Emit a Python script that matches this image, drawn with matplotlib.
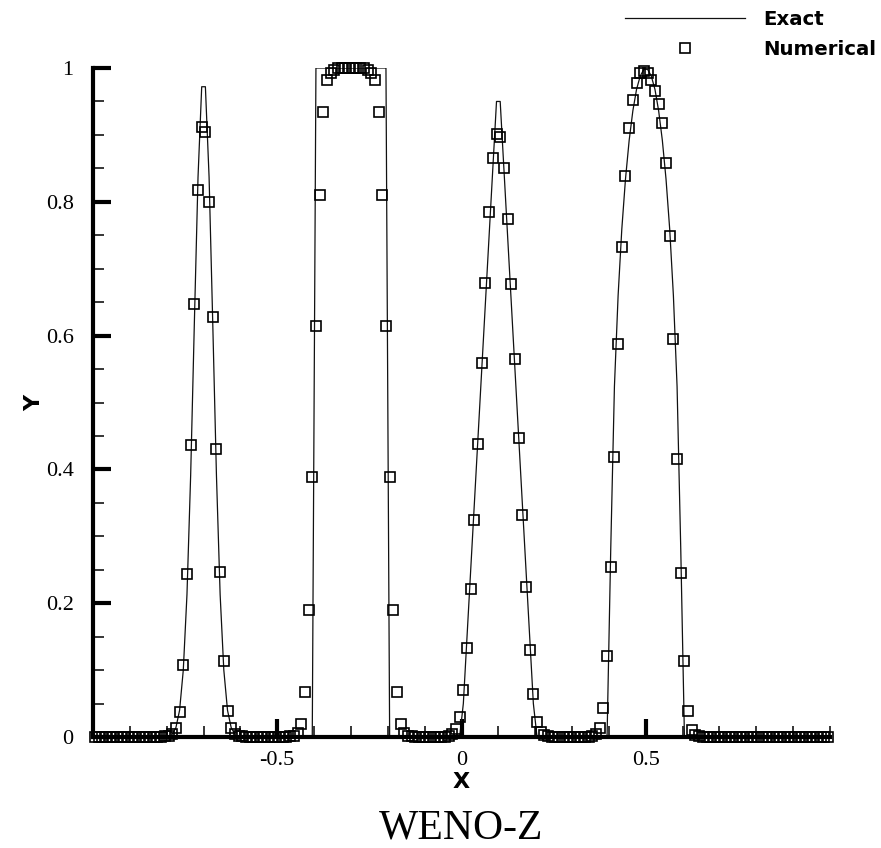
import numpy as np
import matplotlib
matplotlib.use("Agg")
import matplotlib.pyplot as plt
from matplotlib.ticker import MultipleLocator, FuncFormatter

plt.rcParams['axes.unicode_minus'] = False

# cell centres of the 200-cell mesh on [-1, 1]
x_cell = [
    -0.995, -0.985, -0.975, -0.965, -0.955, -0.945, -0.935, -0.925, -0.915, -0.905,
    -0.895, -0.885, -0.875, -0.865, -0.855, -0.845, -0.835, -0.825, -0.815, -0.805,
    -0.795, -0.785, -0.775, -0.765, -0.755, -0.745, -0.735, -0.725, -0.715, -0.705,
    -0.695, -0.685, -0.675, -0.665, -0.655, -0.645, -0.635, -0.625, -0.615, -0.605,
    -0.595, -0.585, -0.575, -0.565, -0.555, -0.545, -0.535, -0.525, -0.515, -0.505,
    -0.495, -0.485, -0.475, -0.465, -0.455, -0.445, -0.435, -0.425, -0.415, -0.405,
    -0.395, -0.385, -0.375, -0.365, -0.355, -0.345, -0.335, -0.325, -0.315, -0.305,
    -0.295, -0.285, -0.275, -0.265, -0.255, -0.245, -0.235, -0.225, -0.215, -0.205,
    -0.195, -0.185, -0.175, -0.165, -0.155, -0.145, -0.135, -0.125, -0.115, -0.105,
    -0.095, -0.085, -0.075, -0.065, -0.055, -0.045, -0.035, -0.025, -0.015, -0.005,
    0.005, 0.015, 0.025, 0.035, 0.045, 0.055, 0.065, 0.075, 0.085, 0.095,
    0.105, 0.115, 0.125, 0.135, 0.145, 0.155, 0.165, 0.175, 0.185, 0.195,
    0.205, 0.215, 0.225, 0.235, 0.245, 0.255, 0.265, 0.275, 0.285, 0.295,
    0.305, 0.315, 0.325, 0.335, 0.345, 0.355, 0.365, 0.375, 0.385, 0.395,
    0.405, 0.415, 0.425, 0.435, 0.445, 0.455, 0.465, 0.475, 0.485, 0.495,
    0.505, 0.515, 0.525, 0.535, 0.545, 0.555, 0.565, 0.575, 0.585, 0.595,
    0.605, 0.615, 0.625, 0.635, 0.645, 0.655, 0.665, 0.675, 0.685, 0.695,
    0.705, 0.715, 0.725, 0.735, 0.745, 0.755, 0.765, 0.775, 0.785, 0.795,
    0.805, 0.815, 0.825, 0.835, 0.845, 0.855, 0.865, 0.875, 0.885, 0.895,
    0.905, 0.915, 0.925, 0.935, 0.945, 0.955, 0.965, 0.975, 0.985, 0.995,
]

# exact profile: gaussian, square, triangle, half ellipse
u_exact = [
    0, 0, 0, 0, 0, 0, 0, 0, 0, 0,
    0, 0, 0, 0, 0, 0, 0, 0, 0, 0,
    0.001, 0.004, 0.014, 0.040, 0.100, 0.213, 0.391, 0.618, 0.837, 0.972,
    0.972, 0.837, 0.618, 0.391, 0.213, 0.100, 0.040, 0.014, 0.004, 0.001,
    0, 0, 0, 0, 0, 0, 0, 0, 0, 0,
    0, 0, 0, 0, 0, 0, 0, 0, 0, 0,
    1, 1, 1, 1, 1, 1, 1, 1, 1, 1,
    1, 1, 1, 1, 1, 1, 1, 1, 1, 1,
    0, 0, 0, 0, 0, 0, 0, 0, 0, 0,
    0, 0, 0, 0, 0, 0, 0, 0, 0, 0,
    0.05, 0.15, 0.25, 0.35, 0.45, 0.55, 0.65, 0.75, 0.85, 0.95,
    0.95, 0.85, 0.75, 0.65, 0.55, 0.45, 0.35, 0.25, 0.15, 0.05,
    0, 0, 0, 0, 0, 0, 0, 0, 0, 0,
    0, 0, 0, 0, 0, 0, 0, 0, 0, 0,
    0.281, 0.524, 0.660, 0.759, 0.834, 0.892, 0.936, 0.968, 0.988, 0.998,
    0.998, 0.988, 0.968, 0.936, 0.892, 0.834, 0.759, 0.660, 0.524, 0.281,
    0, 0, 0, 0, 0, 0, 0, 0, 0, 0,
    0, 0, 0, 0, 0, 0, 0, 0, 0, 0,
    0, 0, 0, 0, 0, 0, 0, 0, 0, 0,
    0, 0, 0, 0, 0, 0, 0, 0, 0, 0,
]

# WENO-Z solution
u_weno = [
    0, 0, 0, 0, 0, 0, 0, 0, 0, 0,
    0, 0, 0, 0, 0, 0, 0, 0, 0, 0.001,
    0.002, 0.004, 0.013, 0.037, 0.107, 0.244, 0.436, 0.647, 0.818, 0.912,
    0.905, 0.800, 0.628, 0.430, 0.247, 0.114, 0.039, 0.013, 0.004, 0.002,
    0.001, 0, 0, 0, 0, 0, 0, 0, 0, 0,
    0, 0, 0, 0.001, 0.002, 0.006, 0.020, 0.068, 0.190, 0.389,
    0.614, 0.810, 0.934, 0.982, 0.993, 0.997, 1.0, 1.0, 1.0, 1.0,
    1.0, 1.0, 1.0, 1.0, 0.997, 0.993, 0.982, 0.934, 0.810, 0.614,
    0.389, 0.190, 0.068, 0.020, 0.006, 0.002, 0.001, 0, 0, 0,
    0, 0, 0, 0, 0, 0, 0.001, 0.004, 0.012, 0.030,
    0.070, 0.133, 0.221, 0.324, 0.438, 0.559, 0.679, 0.785, 0.865, 0.901,
    0.897, 0.850, 0.774, 0.677, 0.565, 0.447, 0.332, 0.224, 0.130, 0.064,
    0.022, 0.008, 0.003, 0.001, 0, 0, 0, 0, 0, 0,
    0, 0, 0, 0, 0, 0.001, 0.004, 0.013, 0.043, 0.121,
    0.254, 0.419, 0.587, 0.732, 0.839, 0.911, 0.952, 0.978, 0.992, 0.995,
    0.993, 0.982, 0.965, 0.946, 0.918, 0.858, 0.749, 0.595, 0.416, 0.245,
    0.114, 0.039, 0.011, 0.003, 0.001, 0, 0, 0, 0, 0,
    0, 0, 0, 0, 0, 0, 0, 0, 0, 0,
    0, 0, 0, 0, 0, 0, 0, 0, 0, 0,
    0, 0, 0, 0, 0, 0, 0, 0, 0, 0,
]

x_major = [-0.5, 0, 0.5]
y_major = [0, 0.2, 0.4, 0.6, 0.8, 1.0]

fig = plt.figure(figsize=(8.81, 8.48), dpi=100)
ax = fig.add_axes([93 / 881, 111 / 848, 737 / 881, 669 / 848])

ax.plot(x_cell, u_exact, color='#111111', lw=0.9, label='Exact', zorder=2)
ax.plot(x_cell, u_weno, ls='none', marker='s', ms=7, mfc='none', mec='black',
        mew=1.2, label='Numerical', clip_on=False, zorder=3)

ax.set_xlim(-1, 1)
ax.set_ylim(0, 1)

for side in ['top', 'right']:
    ax.spines[side].set_visible(False)
for side in ['left', 'bottom']:
    ax.spines[side].set_linewidth(3)

ax.set_xticks(x_major)
ax.set_yticks(y_major)
ax.xaxis.set_minor_locator(MultipleLocator(0.1))
ax.yaxis.set_minor_locator(MultipleLocator(0.05))
ax.xaxis.set_major_formatter(FuncFormatter(lambda v, p: '%g' % v))
ax.yaxis.set_major_formatter(FuncFormatter(lambda v, p: '%g' % v))
ax.tick_params(which='major', direction='in', length=13, width=3)
ax.tick_params(which='minor', direction='in', length=8, width=1.1)
ax.tick_params(axis='y', which='major', pad=14)
ax.tick_params(axis='x', which='major', pad=10)
for lab in ax.get_xticklabels() + ax.get_yticklabels():
    lab.set_fontfamily('Liberation Serif')
    lab.set_fontsize(16)

ax.set_xlabel('X', fontsize=16, fontweight='bold', family='DejaVu Sans')
ax.set_ylabel('Y', fontsize=16, fontweight='bold', family='DejaVu Sans')
ax.xaxis.set_label_coords(0.5, -0.052)
ax.yaxis.set_label_coords(-0.066, 0.5)

leg = ax.legend(loc='upper left', bbox_to_anchor=(625 / 881, 1 - 10 / 848),
                bbox_transform=fig.transFigure, frameon=False, borderpad=0,
                borderaxespad=0, handlelength=6.1, handletextpad=0.9,
                labelspacing=0.55, prop={'family': 'DejaVu Sans', 'weight': 'bold', 'size': 14.2})

fig.text(0.5 * (93 + 830) / 881, 1 - 828 / 848, 'WENO-Z', ha='center', va='center',
         family='Liberation Serif', fontsize=30)

fig.savefig('out.png', dpi=100)
